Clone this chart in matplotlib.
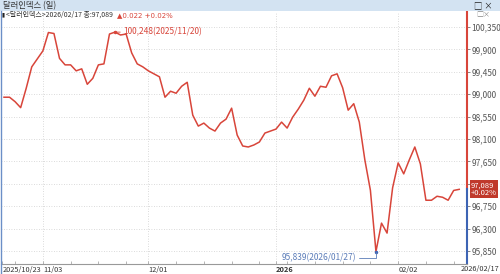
import matplotlib
matplotlib.use("Agg")
import matplotlib.pyplot as plt
from matplotlib.patches import Rectangle
import pandas as pd

plt.rcParams['font.family'] = ['Liberation Sans Narrow', 'Noto Sans CJK KR', 'DejaVu Sans']

# trading days (Thanksgiving missing in the source)
dates = pd.bdate_range('2025-10-23', '2026-02-17')
dates = dates[dates != pd.Timestamp('2025-11-27')]

# dollar index closes
values = [98.94, 98.94, 98.85, 98.73, 99.12, 99.55, 99.71, 99.87, 100.24, 100.22,
          99.72, 99.59, 99.59, 99.47, 99.51, 99.20, 99.32, 99.59, 99.61, 100.21,
          100.248, 100.19, 100.21, 99.83, 99.61, 99.55, 99.47, 99.41, 99.35, 98.94,
          99.06, 99.02, 99.16, 99.24, 98.58, 98.36, 98.42, 98.32, 98.26, 98.42,
          98.50, 98.72, 98.18, 97.96, 97.94, 97.98, 98.04, 98.22, 98.26, 98.30,
          98.44, 98.32, 98.54, 98.70, 98.88, 99.12, 98.96, 99.16, 99.14, 99.37,
          99.41, 99.13, 98.68, 98.81, 98.44, 97.68, 97.07, 95.839, 96.41, 96.21,
          97.12, 97.62, 97.40, 97.68, 97.94, 97.60, 96.87, 96.87, 96.95, 96.93,
          96.87, 97.067, 97.089]

ytick_vals = [95.85, 96.30, 96.75, 97.20, 97.65, 98.10, 98.55, 99.00, 99.45, 99.90, 100.35]
ytick_labels = ['95,850', '96,300', '96,750', '', '97,650', '98,100', '98,550',
                '99,000', '99,450', '99,900', '100,350']
xtick_dates = ['2025-10-23', '2025-11-03', '2025-12-01', '2026-01-01', '2026-02-02']
xtick_labels = ['2025/10/23', '11/03', '12/01', '2026', '02/02']
last_label = '2026/02/17'
grid_dates = ['2025-11-03', '2025-12-01', '2026-01-01', '2026-02-02']

RED = '#d8453a'
BLUE = '#3d64b4'
GRAY = '#555555'

idx = list(range(len(values)))
pos = {d: i for i, d in enumerate(dates)}
XMAX = 83.4

fig = plt.figure(figsize=(5, 2.74), dpi=100)
ax = fig.add_axes([0.002, 0.0365, 0.932, 0.9195])

ax.plot(idx, values, color=RED, lw=1.1)
ax.set_xlim(-0.54, XMAX)
ax.set_ylim(95.589, 100.651)

# grid
for v in ytick_vals:
    ax.axhline(v, color='#cfcfcf', lw=0.6, ls=(0, (1, 2)), zorder=0)
for d in grid_dates:
    ax.axvline(pos[pd.Timestamp(d)], color='#cfcfcf', lw=0.6, ls=(0, (1, 2)), zorder=0)

# y axis on the right
ax.yaxis.tick_right()
ax.set_yticks(ytick_vals)
ax.set_yticklabels(ytick_labels, fontsize=6, color=GRAY)
ax.tick_params(axis='y', length=2, width=0.5, pad=1, colors=GRAY)

# x ticks: labels start at the tick
xt = []
for d in xtick_dates:
    t = pd.Timestamp(d)
    xt.append(pos[t] if t in pos else pos[dates[dates >= t][0]])
xt[0] = -0.3
ax.set_xticks(xt)
labs = ax.set_xticklabels(xtick_labels, fontsize=5.3, color='#333333')
for lab in labs:
    lab.set_ha('left')
labs[3].set_fontweight('bold')
mondays = [i for i, d in enumerate(dates) if d.weekday() == 0]
ax.set_xticks(mondays, minor=True)
ax.tick_params(axis='x', which='both', direction='in', length=2, width=0.5,
               colors='#999999', pad=1.5)
for lab in ax.get_xticklabels():
    lab.set_color('#333333')
# last date sits under the right axis, flush with the figure edge
fig.text(0.998, 1 - 269.5 / 274, last_label, fontsize=5.3, color='#333333',
         ha='right', va='center')

for s in ['top', 'left', 'right']:
    ax.spines[s].set_visible(False)
ax.spines['bottom'].set_color('#999999')
ax.spines['bottom'].set_linewidth(0.8)

# right spine split at the last value
last = values[-1]
ylo, yhi = ax.get_ylim()
frac = (last - ylo) / (yhi - ylo)
ax.axvline(XMAX, ymin=frac, ymax=1, color=RED, lw=1.5, clip_on=False)
ax.axvline(XMAX, ymin=0, ymax=frac, color=BLUE, lw=1.5, clip_on=False)

# max / min annotations
imax = values.index(max(values))
imin = values.index(min(values))
ax.plot(imax, values[imax], marker='o', ms=1.5, color=RED)
ax.annotate('100,248(2025/11/20)', xy=(imax, values[imax]), xytext=(8, 0),
            textcoords='offset pixels', fontsize=6, color=RED, va='center',
            arrowprops=dict(arrowstyle='-', color=RED, lw=0.6, shrinkA=0, shrinkB=0))
ax.plot(imin, values[imin], marker='o', ms=1.5, color=BLUE)
ax.annotate('95,839(2026/01/27)', xy=(imin, values[imin]), xytext=(-20, -6),
            textcoords='offset pixels', fontsize=6, color='#5b7cb8', va='center', ha='right',
            arrowprops=dict(arrowstyle='-', color='#5b7cb8', lw=0.6, shrinkA=0, shrinkB=0,
                            connectionstyle='angle,angleA=0,angleB=90,rad=0'))

# price box on the right axis
ax.annotate('97,089\n+0.02%', xy=(XMAX, last), xytext=(4, 0), textcoords='offset pixels',
            fontsize=5.5, color='white', va='center', ha='left', linespacing=0.9,
            bbox=dict(boxstyle='square,pad=0.15', fc='#c0392b', ec='none'), annotation_clip=False)

# title bar
fig.patches.append(Rectangle((0, 1 - 11 / 274), 1, 11 / 274, transform=fig.transFigure,
                             fc='#d3e3f2', ec='none'))
fig.text(0.006, 1 - 5.5 / 274, '달러인덱스 (일)', fontsize=6, color='#333333', va='center')
fig.text(0.985, 1 - 5.5 / 274, '□ ×', fontsize=6, color='#222222', va='center', ha='right')
fig.text(0.98, 1 - 15 / 274, '□×', fontsize=5, color='#888888', va='center', ha='right')

# header line
fig.text(0.004, 1 - 15 / 274, '▮', fontsize=4, color='#222222', va='center',
         family=['DejaVu Sans'])
head = fig.text(0.012, 1 - 15 / 274, '<달러인덱스>2026/02/17 종:97,089', fontsize=5,
                color='#333333', va='center')
fig.canvas.draw()
bb = head.get_window_extent()
fig.text((bb.x1 + 4) / 500, 1 - 15 / 274, '▲0.022 +0.02%', fontsize=5, color=RED,
         va='center', family=['Liberation Sans Narrow', 'DejaVu Sans'])

# left border
fig.add_artist(plt.Line2D([0.001, 0.001], [0, 1 - 11 / 274], color='#6b8fc7', lw=1))

fig.savefig('out.png', dpi=100)
